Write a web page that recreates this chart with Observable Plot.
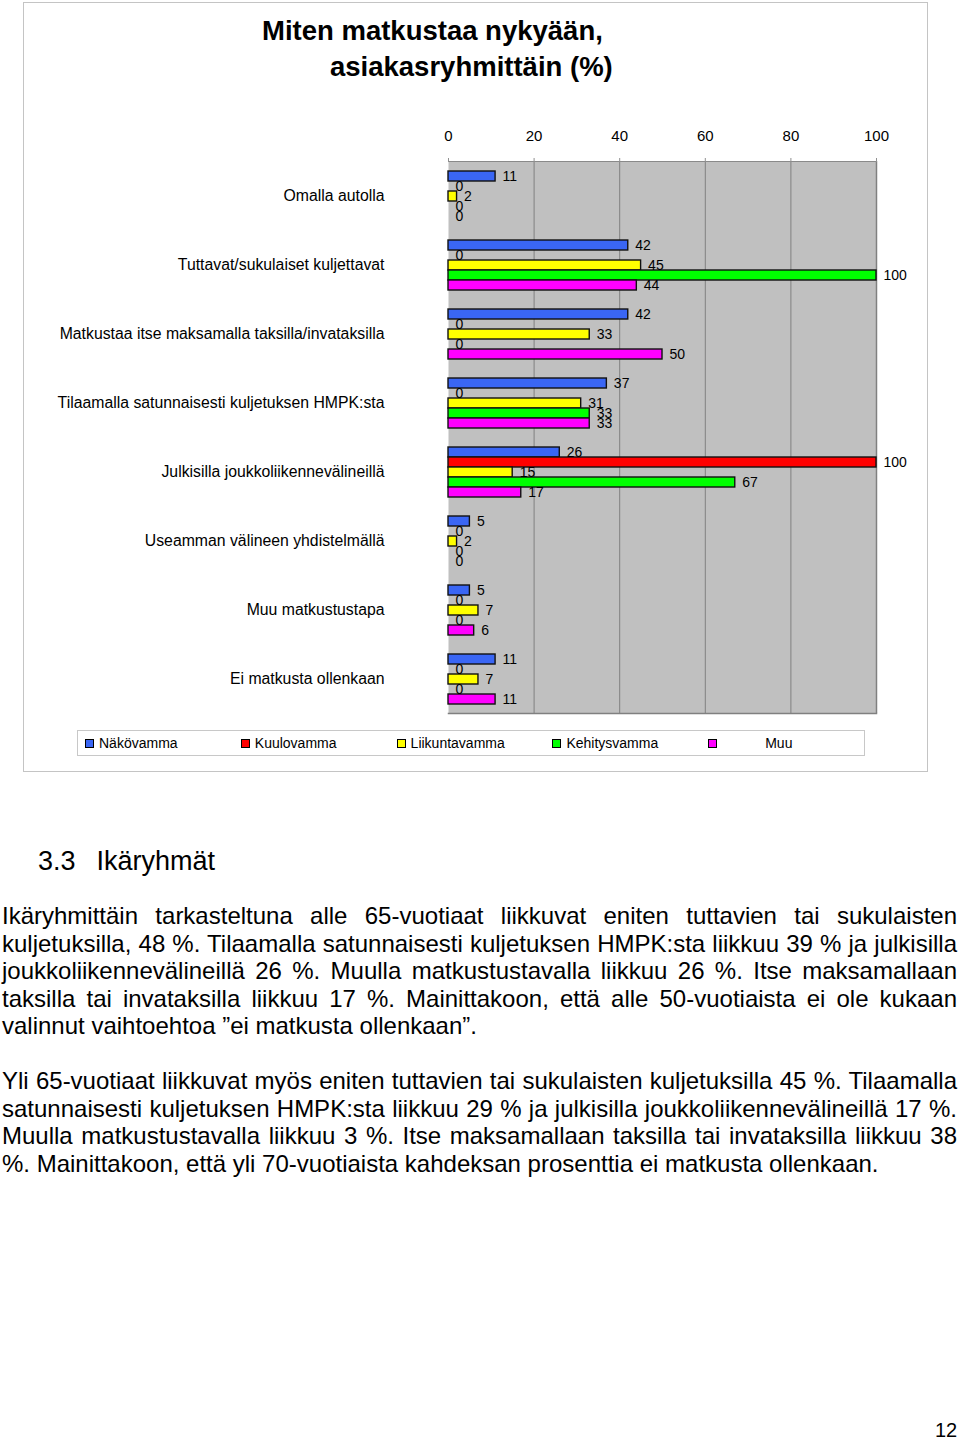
<!DOCTYPE html>
<html><head><meta charset="utf-8">
<script src="https://cdn.jsdelivr.net/npm/d3@7"></script>
<script src="https://cdn.jsdelivr.net/npm/@observablehq/plot@0.6"></script>
<style>
body{margin:0;width:960px;height:1440px;position:relative;font-family:"Liberation Sans",Arial,sans-serif;background:#fff;color:#000;overflow:hidden}
#box{position:absolute;left:23px;top:2px;width:905px;height:770px;border:1px solid #c4c4c4;box-sizing:border-box}
.t{position:absolute;font-weight:bold;font-size:27.5px;white-space:nowrap;line-height:1}
#chart{position:absolute;left:0;top:112px}
#legend{position:absolute;left:77px;top:730px;width:788px;height:26px;border:1px solid #c8c8c8;box-sizing:border-box;display:flex;align-items:center;padding-left:7px;font-size:14px}
.item{width:156px;display:flex;align-items:center;white-space:nowrap}
.sw{width:7px;height:7px;border:1px solid #000;margin-right:5px;flex:none}
#h{position:absolute;left:38px;top:846px;font-size:27px;white-space:pre;line-height:normal}
.p{position:absolute;left:2px;width:955px;font-size:24px;line-height:27.5px}
.p div{text-align:justify;text-align-last:justify;white-space:nowrap}
.p div.last{text-align:left;text-align-last:left}
#pg{position:absolute;left:935px;top:1419px;font-size:20px;line-height:22px}
</style>
</head><body>
<div id="box"></div>
<div class="t" style="left:262px;top:17px">Miten matkustaa nykyään,</div>
<div class="t" style="left:330px;top:53px">asiakasryhmittäin (%)</div>
<div id="chart"></div>
<div id="legend"></div>
<div id="h"><span>3.3</span><span style="margin-left:21px">Ikäryhmät</span></div>
<div class="p" style="top:902px">
<div>Ikäryhmittäin tarkasteltuna alle 65-vuotiaat liikkuvat eniten tuttavien tai sukulaisten</div>
<div>kuljetuksilla, 48 %. Tilaamalla satunnaisesti kuljetuksen HMPK:sta liikkuu 39 % ja julkisilla</div>
<div>joukkoliikennevälineillä 26 %. Muulla matkustustavalla liikkuu 26 %. Itse maksamallaan</div>
<div>taksilla tai invataksilla liikkuu 17 %. Mainittakoon, että alle 50-vuotiaista ei ole kukaan</div>
<div class="last">valinnut vaihtoehtoa ”ei matkusta ollenkaan”.</div>
</div>
<div class="p" style="top:1067px">
<div>Yli 65-vuotiaat liikkuvat myös eniten tuttavien tai sukulaisten kuljetuksilla 45 %. Tilaamalla</div>
<div>satunnaisesti kuljetuksen HMPK:sta liikkuu 29 % ja julkisilla joukkoliikennevälineillä 17 %.</div>
<div>Muulla matkustustavalla liikkuu 3 %. Itse maksamallaan taksilla tai invataksilla liikkuu 38</div>
<div class="last">%. Mainittakoon, että yli 70-vuotiaista kahdeksan prosenttia ei matkusta ollenkaan.</div>
</div>
<div id="pg">12</div>
<script>
const categories = [
  "Omalla autolla",
  "Tuttavat/sukulaiset kuljettavat",
  "Matkustaa itse maksamalla taksilla/invataksilla",
  "Tilaamalla satunnaisesti kuljetuksen HMPK:sta",
  "Julkisilla joukkoliikennevälineillä",
  "Useamman välineen yhdistelmällä",
  "Muu matkustustapa",
  "Ei matkusta ollenkaan"
];
const series = ["Näkövamma", "Kuulovamma", "Liikuntavamma", "Kehitysvamma", "Muu"];
const colors = ["#3a66f4", "#ff0000", "#ffff00", "#00ff00", "#ff00ff"];
const nakovamma     = [11, 42, 42, 37, 26, 5, 5, 11];
const kuulovamma    = [0, 0, 0, 0, 100, 0, 0, 0];
const liikuntavamma = [2, 45, 33, 31, 15, 2, 7, 7];
const kehitysvamma  = [0, 100, 0, 33, 67, 0, 0, 0];
const muu           = [0, 44, 50, 33, 17, 0, 6, 11];
const xTicks = [0, 20, 40, 60, 80, 100];

const seriesValues = [nakovamma, kuulovamma, liikuntavamma, kehitysvamma, muu];
const rows = [];
categories.forEach((c, i) => {
  series.forEach((s, j) => rows.push({category: c, series: s, value: seriesValues[j][i]}));
});

const chart = Plot.plot({
  width: 960,
  height: 608,
  marginTop: 48,
  marginBottom: 6,
  marginLeft: 448,
  marginRight: 84,
  x: {domain: [0, 100]},
  y: {domain: series, axis: null, paddingInner: 0, paddingOuter: 0.8},
  fy: {domain: categories, padding: 0, round: true},
  color: {domain: series, range: colors},
  style: {fontFamily: "'Liberation Sans', Arial, sans-serif", color: "#000", background: "transparent"},
  marks: [
    Plot.frame({facet: "super", fill: "#c0c0c0", stroke: null}),
    Plot.ruleX([20, 40, 60, 80], {stroke: "#808080"}),
    Plot.ruleX([100], {stroke: "#808080", strokeWidth: 1.5}),
    Plot.frame({facet: "super", anchor: "top", stroke: "#8a8a8a", strokeWidth: 1}),
    Plot.frame({facet: "super", anchor: "bottom", stroke: "#808080", strokeWidth: 1.5}),
    Plot.axisX({anchor: "top", ticks: xTicks, tickSize: 4, tickPadding: 17, fontSize: 15, label: null, stroke: "#909090", fill: "#000"}),
    Plot.axisFy({anchor: "left", tickSize: 0, tickPadding: 64, fontSize: 15.8, label: null}),
    Plot.barX(rows, {fy: "category", y: "series", x: "value", fill: "series", stroke: "#111", strokeWidth: 1.4}),
    Plot.text(rows, {fy: "category", y: "series", x: "value", text: d => String(d.value), dx: 7, textAnchor: "start", fontSize: 14, fill: "#000"})
  ]
});
document.getElementById("chart").appendChild(chart);

const legend = document.getElementById("legend");
series.forEach((s, j) => {
  const item = document.createElement("div");
  item.className = "item";
  const sw = document.createElement("span");
  sw.className = "sw";
  sw.style.background = colors[j];
  const lab = document.createElement("span");
  lab.textContent = s;
  if (s === "Muu") lab.style.marginLeft = "43px";
  item.appendChild(sw);
  item.appendChild(lab);
  legend.appendChild(item);
});
</script>
</body></html>
